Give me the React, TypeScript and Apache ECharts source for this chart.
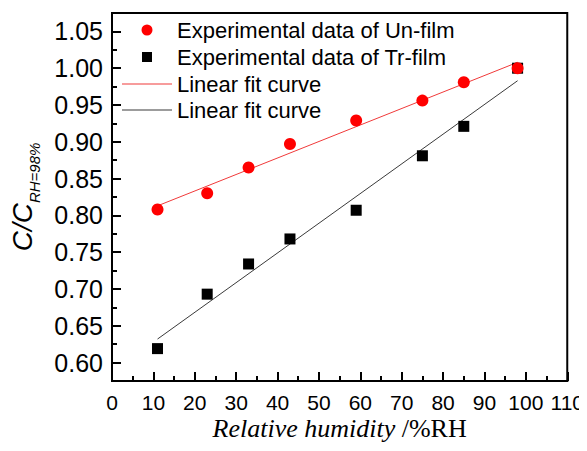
import React, { useEffect, useRef } from "react";
import * as echarts from "echarts";

// Relative humidity (%RH) at which both films were measured
const humidity = [11, 23, 33, 43, 59, 75, 85, 98];
// C / C(RH=98%) for the untreated film
const unFilm = [0.808, 0.83, 0.865, 0.897, 0.929, 0.956, 0.981, 1.0];
// C / C(RH=98%) for the treated film
const trFilm = [0.619, 0.693, 0.734, 0.768, 0.807, 0.881, 0.921, 1.0];
// Linear fit lines, end points
const fitX = [11, 98];
const unFitY = [0.813, 1.008];
const trFitY = [0.632, 0.983];

const xTicks = [0, 110, 10];
const yRange = [0.575, 1.075];

const legendNames = [
  "Experimental data of Un-film",
  "Experimental data of Tr-film",
  "Linear fit curve",
  "Linear fit curve ",
];

const SANS = "Liberation Sans, Arial, sans-serif";
const SERIF = "Liberation Serif, Times New Roman, serif";

const ICON_CIRCLE = "path://M0,5A5,5 0 1,1 10,5A5,5 0 1,1 0,5Z";
const ICON_SQUARE = "path://M0,0H10V10H0Z";
const ICON_LINE = "path://M0,0H50V1H0Z";

export default function App() {
  const ref = useRef<HTMLDivElement>(null);
  useEffect(() => {
    if (!ref.current) return;
    const chart = echarts.init(ref.current, undefined, { renderer: "svg" });
    const pair = (xs: number[], ys: number[]) => xs.map((x, i) => [x, ys[i]]);
    const legendRow = (name: string, icon: string, center: number, h: number, lineIcon: boolean) => ({
      show: true,
      orient: "vertical",
      left: lineIcon ? 122 : 122 + (50 - h) / 2,
      top: center - 11,
      padding: 0,
      itemWidth: 50,
      itemHeight: h,
      symbolKeepAspect: true,
      data: [{ name, icon }],
      textStyle: { color: "#000", fontSize: 22, lineHeight: 22, fontFamily: SANS },
      selectedMode: false,
    });
    chart.setOption({
      animation: false,
      backgroundColor: "#fff",
      grid: {
        left: 111,
        right: 19,
        top: 13,
        bottom: 70,
        show: true,
        borderColor: "#000",
        borderWidth: 2,
        backgroundColor: "transparent",
      },
      legend: [
        legendRow(legendNames[0], ICON_CIRCLE, 30, 11, false),
        legendRow(legendNames[1], ICON_SQUARE, 57, 10, false),
        legendRow(legendNames[2], ICON_LINE, 84, 11, true),
        legendRow(legendNames[3], ICON_LINE, 110, 11, true),
      ],
      xAxis: {
        type: "value",
        min: xTicks[0],
        max: xTicks[1],
        interval: xTicks[2],
        name: "{i|Relative humidity }{n|/%RH}",
        nameLocation: "middle",
        nameGap: 38,
        nameMoveOverlap: false,
        nameTextStyle: {
          rich: {
            i: { fontFamily: SERIF, fontStyle: "italic", fontSize: 26, lineHeight: 18, color: "#000" },
            n: { fontFamily: SERIF, fontSize: 26, lineHeight: 18, color: "#000" },
          },
        },
        axisLine: { show: true, lineStyle: { color: "#000", width: 2 } },
        axisTick: { show: true, inside: true, length: 9, lineStyle: { color: "#000", width: 2 } },
        minorTick: { show: true, splitNumber: 2, length: 5, lineStyle: { color: "#000", width: 2 } },
        axisLabel: { color: "#000", fontSize: 21, lineHeight: 16, fontFamily: SANS, margin: 13 },
        splitLine: { show: false },
      },
      yAxis: {
        type: "value",
        min: yRange[0],
        max: yRange[1],
        splitNumber: 10,
        name: "{c|C/C}{s|RH=98%}",
        nameLocation: "middle",
        nameGap: 70,
        nameMoveOverlap: false,
        nameTextStyle: {
          rich: {
            c: { fontFamily: SANS, fontStyle: "italic", fontSize: 28, lineHeight: 40, color: "#000" },
            s: { fontFamily: SANS, fontStyle: "italic", fontSize: 15, verticalAlign: "bottom", color: "#000" },
          },
        },
        axisLine: { show: true, lineStyle: { color: "#000", width: 2 } },
        axisTick: { show: true, inside: true, length: 9, lineStyle: { color: "#000", width: 2 } },
        minorTick: { show: true, splitNumber: 2, length: 5, lineStyle: { color: "#000", width: 2 } },
        axisLabel: {
          color: "#000",
          fontSize: 25,
          fontFamily: SANS,
          margin: 9,
          formatter: (v: number) =>
            Math.abs(v * 20 - Math.round(v * 20)) < 1e-6 ? v.toFixed(2) : "",
        },
        splitLine: { show: false },
      },
      series: [
        {
          name: legendNames[2],
          type: "line",
          data: pair(fitX, unFitY),
          symbol: "none",
          lineStyle: { color: "#f03a3a", width: 1 },
          itemStyle: { color: "#f03a3a" },
          z: 2,
        },
        {
          name: legendNames[3],
          type: "line",
          data: pair(fitX, trFitY),
          symbol: "none",
          lineStyle: { color: "#3a3a3a", width: 1 },
          itemStyle: { color: "#3a3a3a" },
          z: 2,
        },
        {
          name: legendNames[1],
          type: "scatter",
          data: pair(humidity, trFilm),
          symbol: "rect",
          symbolSize: 11,
          itemStyle: { color: "#000", opacity: 1 },
          z: 3,
        },
        {
          name: legendNames[0],
          type: "scatter",
          data: pair(humidity, unFilm),
          symbol: "circle",
          symbolSize: 12,
          itemStyle: { color: "#ff0000", opacity: 1 },
          z: 4,
        },
      ],
    });
    return () => chart.dispose();
  }, []);
  return <div ref={ref} style={{ width: 587, height: 451, margin: -8 }} />;
}
